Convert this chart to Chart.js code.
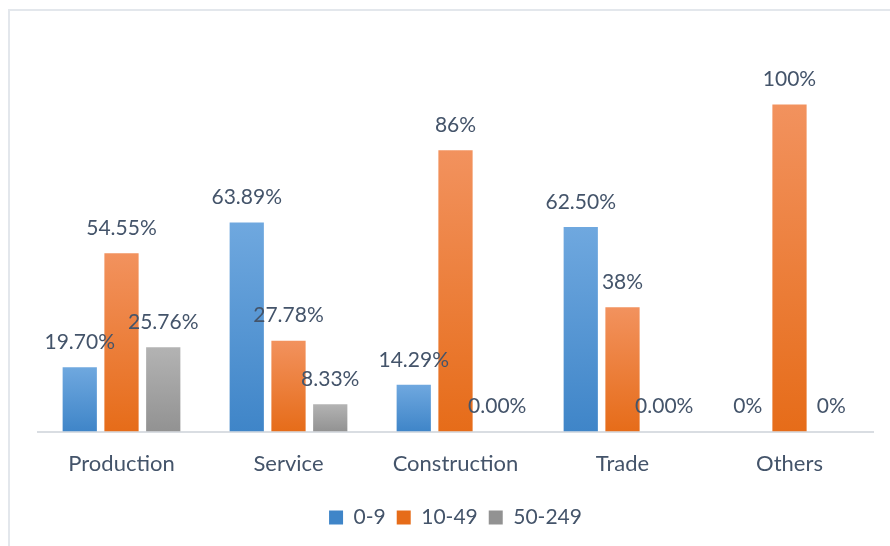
<!DOCTYPE html>
<html lang="en">
  <head>
    <meta charset="UTF-8" />
    <title>Enterprise size by sector</title>
    <script src="https://cdn.jsdelivr.net/npm/chart.js@4"></script>
    <style>
      body { margin: 0; background: #fff; }
      #frame {
        position: absolute; left: 8px; top: 9px; right: 0; bottom: 0;
        border-top: 2px solid #e3e7ec; border-left: 2px solid #e3e7ec;
      }
      #wrap { position: absolute; left: 0; top: 0; width: 890px; height: 546px; }
    </style>
  </head>
  <body>
    <div id="frame"></div>
    <div id="wrap"><canvas id="myChart"></canvas></div>

    <script>
      const sectors = ['Production', 'Service', 'Construction', 'Trade', 'Others'];
      const sizeClasses = ['0-9', '10-49', '50-249'];

      // share of firms in each size class, %
      const small = [19.70, 63.89, 14.29, 62.50, 0];
      const medium = [54.55, 27.78, 86, 38, 100];
      const large = [25.76, 8.33, 0, 0, 0];

      // decimals printed on each label
      const smallDigits = [2, 2, 2, 2, 0];
      const mediumDigits = [2, 2, 0, 0, 0];
      const largeDigits = [2, 2, 2, 2, 0];

      const textColor = '#44546a';
      const fontFamily = 'Lato, "Open Sans", sans-serif';

      // vertical gradient per bar, light at the top
      function barFill(top, mid, bottom) {
        return ctx => {
          const chart = ctx.chart;
          if (ctx.type !== 'data' || !chart.chartArea || !chart.scales.y) return mid;
          const y = chart.scales.y;
          const y0 = y.getPixelForValue(0);
          const y1 = y.getPixelForValue(ctx.raw);
          if (y0 - y1 < 1) return mid;
          const g = chart.ctx.createLinearGradient(0, y1, 0, y0);
          g.addColorStop(0, top);
          g.addColorStop(1, bottom);
          return g;
        };
      }

      const valueLabels = {
        id: 'valueLabels',
        afterDatasetsDraw(chart) {
          const ctx = chart.ctx;
          ctx.save();
          ctx.font = '21px ' + fontFamily;
          ctx.fillStyle = textColor;
          ctx.textAlign = 'center';
          ctx.textBaseline = 'middle';
          chart.data.datasets.forEach((ds, i) => {
            chart.getDatasetMeta(i).data.forEach((bar, j) => {
              const txt = ds.data[j].toFixed(ds.digits[j]) + '%';
              ctx.fillText(txt, bar.x, bar.y - 25);
            });
          });
          ctx.restore();
        }
      };

      const ctx = document.getElementById('myChart').getContext('2d');
      const myChart = new Chart(ctx, {
        type: 'bar',
        data: {
          labels: sectors,
          datasets: [
            {
              label: sizeClasses[0],
              data: small,
              digits: smallDigits,
              backgroundColor: barFill('#6fa8df', '#5795d4', '#3f85c8')
            },
            {
              label: sizeClasses[1],
              data: medium,
              digits: mediumDigits,
              backgroundColor: barFill('#f2925e', '#ef7d33', '#e66c19')
            },
            {
              label: sizeClasses[2],
              data: large,
              digits: largeDigits,
              backgroundColor: barFill('#b3b3b3', '#a3a3a3', '#929292')
            }
          ]
        },
        options: {
          responsive: true,
          maintainAspectRatio: false,
          animation: false,
          categoryPercentage: 0.75,
          barPercentage: 0.82,
          layout: { padding: { left: 38, right: 17, top: 39, bottom: 8 } },
          scales: {
            x: {
              grid: { display: false, drawTicks: false },
              border: { display: true, color: '#d9dde2', width: 2 },
              ticks: { color: textColor, font: { family: fontFamily, size: 22 }, padding: 19 }
            },
            y: { display: false, min: 0, max: 120 }
          },
          plugins: {
            legend: {
              position: 'bottom',
              labels: {
                color: textColor,
                font: { family: fontFamily, size: 21 },
                boxWidth: 14,
                boxHeight: 14,
                padding: 11
              }
            },
            tooltip: { enabled: false }
          }
        },
        plugins: [valueLabels]
      });
    </script>
  </body>
</html>
